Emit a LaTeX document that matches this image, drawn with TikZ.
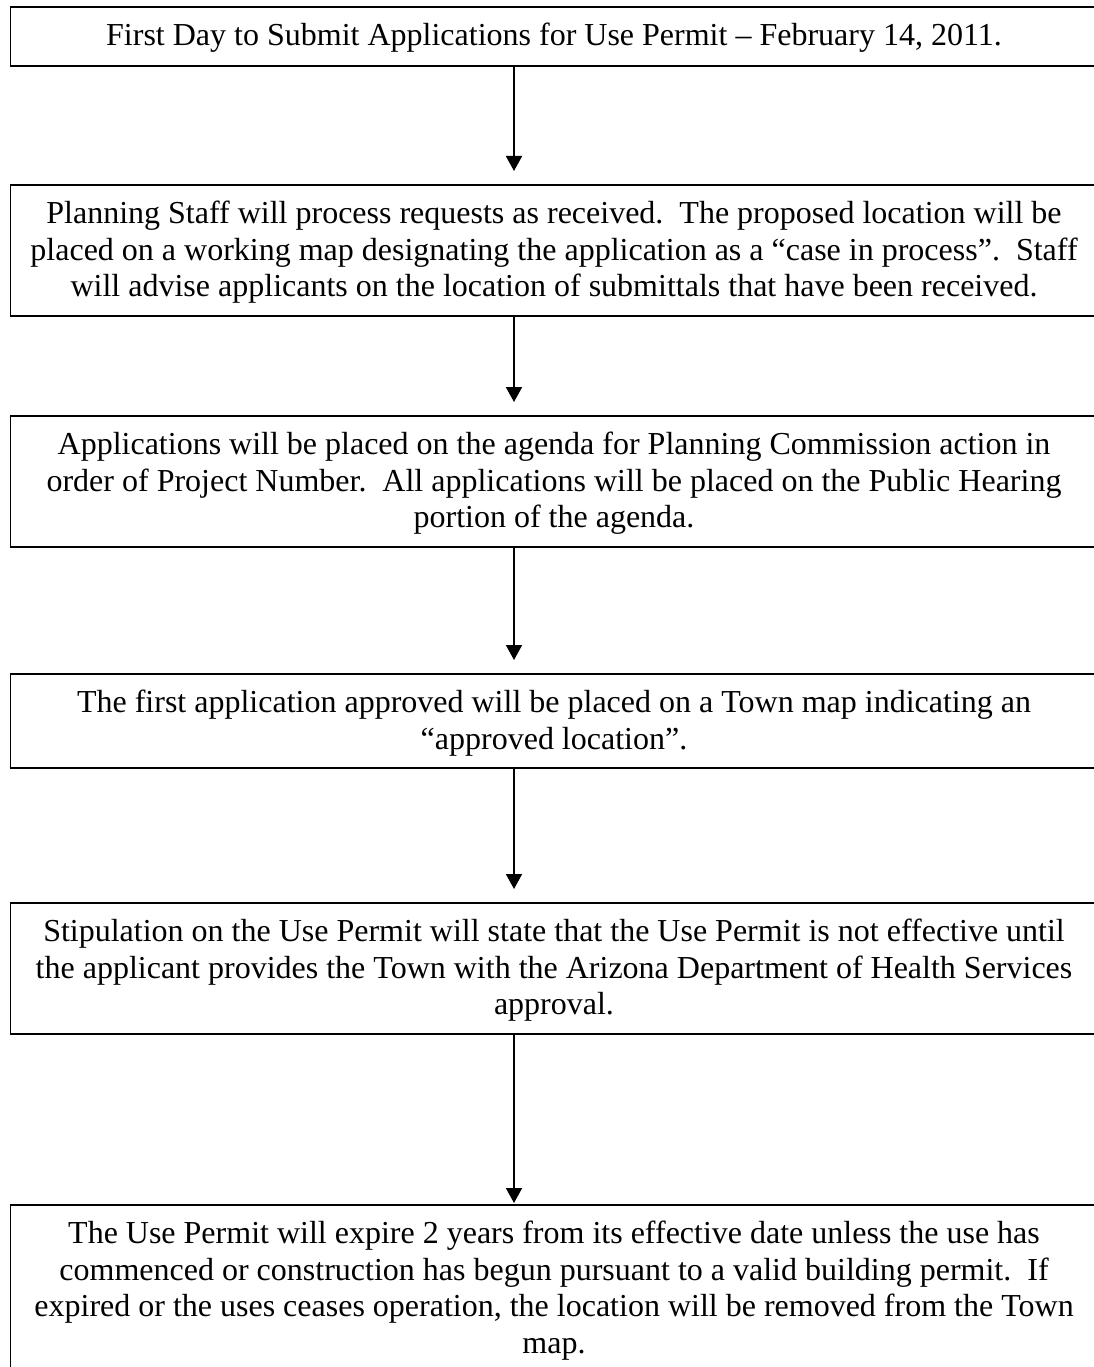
\documentclass[tikz,border=0pt]{standalone}
\usepackage{fontspec}
\setmainfont{Liberation Serif}
\usetikzlibrary{arrows.meta}
\begin{document}
\begin{tikzpicture}[x=1pt,y=-1pt,
  stepbox/.style={draw=black,line width=1.7pt,rectangle,inner sep=0pt,anchor=north west,minimum width=1100pt},
  steptext/.style={anchor=north,inner sep=0pt,align=center,font=\fontsize{32}{36.8}\selectfont},
  flow/.style={line width=1.8pt,-{Triangle[width=16pt,length=15pt]}}]
\useasboundingbox (0,0) rectangle (1094,1367);
\clip (0,0) rectangle (1094,1367);
\fill[white] (0,0) rectangle (1094,1367);
% boxes
\node[stepbox,minimum height=59pt]  (b1) at (9.5,6) {};
\node[stepbox,minimum height=131pt] (b2) at (9.5,184) {};
\node[stepbox,minimum height=131pt] (b3) at (9.5,415) {};
\node[stepbox,minimum height=94pt]  (b4) at (9.5,673) {};
\node[stepbox,minimum height=131pt] (b5) at (9.5,902) {};
\node[stepbox,minimum height=220pt] (b6) at (9.5,1204) {};
% texts
\node[steptext] (t1) at (554,19.24) {\strut First Day to Submit Applications for Use Permit – February 14, 2011.};
\node[steptext] (t2) at (554,197.24) {\strut Planning Staff will process requests as received.\ \ The proposed location will be\\
placed on a working map designating the application as a “case in process”.\ \ Staff\\
will advise applicants on the location of submittals that have been received.};
\node[steptext] (t3) at (554,428.24) {\strut Applications will be placed on the agenda for Planning Commission action in\\
order of Project Number.\ \ All applications will be placed on the Public Hearing\\
portion of the agenda.};
\node[steptext] (t4) at (554,686.24) {\strut The first application approved will be placed on a Town map indicating an\\
“approved location”.};
\node[steptext] (t5) at (554,915.24) {\strut Stipulation on the Use Permit will state that the Use Permit is not effective until\\
the applicant provides the Town with the Arizona Department of Health Services\\
approval.};
\node[steptext] (t6) at (554,1217.24) {\strut The Use Permit will expire 2 years from its effective date unless the use has\\
commenced or construction has begun pursuant to a valid building permit.\ \ If\\
expired or the uses ceases operation, the location will be removed from the Town\\
map.};
% connectors
\coordinate (ax) at (514,0);
\draw[flow] (b1.south -| ax) -- ([yshift=13pt]b2.north -| ax);
\draw[flow] (b2.south -| ax) -- ([yshift=13pt]b3.north -| ax);
\draw[flow] (b3.south -| ax) -- ([yshift=13pt]b4.north -| ax);
\draw[flow] (b4.south -| ax) -- ([yshift=13pt]b5.north -| ax);
\draw[flow] (b5.south -| ax) -- ([yshift=1pt]b6.north -| ax);
\end{tikzpicture}
\end{document}
